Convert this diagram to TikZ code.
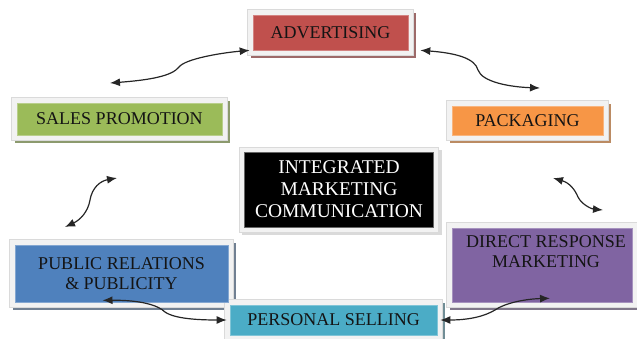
\documentclass[tikz,border=0pt]{standalone}
\usepackage{fontspec}
\setmainfont{Liberation Serif}
\usetikzlibrary{arrows.meta,backgrounds}
\definecolor{advC}{HTML}{C0504D}
\definecolor{spC}{HTML}{9BBB59}
\definecolor{pkgC}{HTML}{F79646}
\definecolor{prC}{HTML}{4F81BD}
\definecolor{drmC}{HTML}{8064A2}
\definecolor{psC}{HTML}{4BACC6}
\definecolor{frameF}{HTML}{F2F2F2}
\definecolor{frameD}{HTML}{DADADA}
\definecolor{txt}{HTML}{141414}
\tikzset{
  cardbox/.style={rectangle, inner sep=0pt, draw=#1!70!white, line width=0.6pt, fill=#1,
    text=txt, font=\fontsize{18}{20}\selectfont, align=center},
  arr/.style={{Latex[length=10pt,width=8pt]}-{Latex[length=10pt,width=8pt]}, line width=1.2pt, black!85},
}
\begin{document}
\begin{tikzpicture}[x=1pt,y=-1pt]
\useasboundingbox (0,0) rectangle (637,338);
\node[cardbox=advC, minimum width=155pt, minimum height=35pt] (adv) at (330.5,32.5) {ADVERTISING};
\node[cardbox=spC, minimum width=205pt, minimum height=32pt] (sp) at (119.5,119) {SALES PROMOTION};
\node[cardbox=pkgC, minimum width=151pt, minimum height=29pt] (pkg) at (527.5,120.5) {PACKAGING};
\node[rectangle, inner sep=0pt, fill=black, draw=black!60, minimum width=189pt, minimum height=75pt,
  text=white, font=\fontsize{19.5}{22}\selectfont, align=center] (imc) at (339,189.5) {INTEGRATED\\MARKETING\\COMMUNICATION};
\node[cardbox=prC, minimum width=213pt, minimum height=57pt] (pr) at (121.5,273.5) {PUBLIC RELATIONS\\\& PUBLICITY};
\node[cardbox=drmC, minimum width=180pt, minimum height=74pt] (drm) at (542,265) {};
\node[text=txt, font=\fontsize{18}{20}\selectfont, align=center, anchor=north, inner sep=0pt] (drmt) at (546,235) {DIRECT RESPONSE\\MARKETING};
\node[cardbox=psC, minimum width=207pt, minimum height=30pt] (ps) at (333.5,320) {PERSONAL SELLING};
\begin{scope}[on background layer]
\foreach \n/\s in {adv/advC!45!gray, sp/spC!45!gray, pkg/pkgC!50!gray, imc/frameD, pr/prC!30!gray, drm/drmC!30!gray, ps/psC!30!gray} {
  \fill[\s] ([shift={(-2,-2)}]\n.north west) rectangle ([shift={(8,8)}]\n.south east);
  \filldraw[fill=frameF, draw=frameD, line width=0.6pt] ([shift={(-5,-5)}]\n.north west) rectangle ([shift={(5,5)}]\n.south east);
}
\end{scope}
\coordinate (a1) at (110,83);
\coordinate (a2) at (540,88);
\coordinate (a3) at (65,227);
\coordinate (a4) at (117,178);
\coordinate (a5) at (553,178);
\coordinate (a6) at (603,210);
\draw[arr] (a1) .. controls (150,80) and (172,76) .. (179,67) .. controls (185,59) and (220,53) .. ([shift={(-3,0)}]adv.south west);
\draw[arr] ([shift={(12,0)}]adv.south east) .. controls (455,53) and (475,58) .. (478,70) .. controls (482,82) and (510,87) .. (a2);
\draw[arr] (a3) .. controls (80,220) and (88,212) .. (90,200) .. controls (92,188) and (100,181) .. (a4);
\draw[arr] (a5) .. controls (570,183) and (575,190) .. (578,197) .. controls (582,205) and (592,209) .. (a6);
\draw[arr] ([shift={(-19,-2)}]pr.south) .. controls (140,300) and (158,305) .. (165,312) .. controls (175,319) and (200,320) .. ([shift={(-3,0)}]ps.west);
\draw[arr] ([shift={(3,0)}]ps.east) .. controls (470,320) and (485,316) .. (495,310) .. controls (505,303) and (525,299) .. ([shift={(8,-4)}]drm.south);
\end{tikzpicture}
\end{document}
